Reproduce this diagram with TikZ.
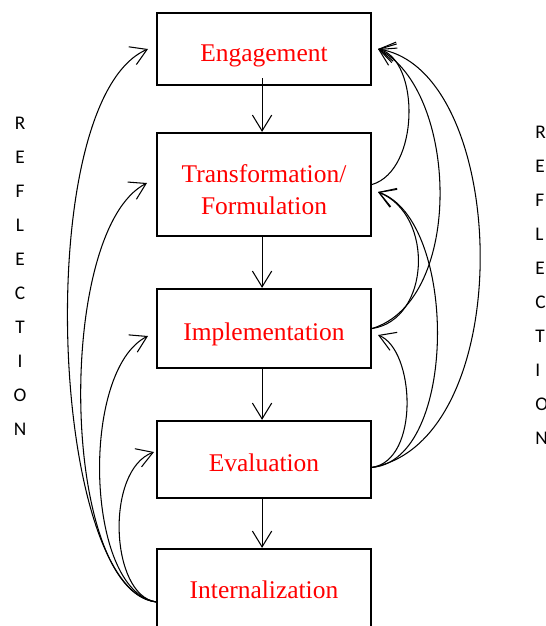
\documentclass[tikz,border=0pt]{standalone}
\usepackage{fontspec}
\setmainfont{Liberation Serif}
\newfontfamily\reflfont{Carlito}
\usetikzlibrary{arrows.meta}

\tikzset{
  stage/.style={draw, line width=1.3pt, minimum width=4.28cm, text=red,
    font=\fontsize{14.5}{18.3}\selectfont, align=center, text height=16.9pt},
  oneline/.style={text depth=3.2pt},
  flow/.style={line width=0.6pt, -{Straight Barb[length=9pt,width=11pt]}},
  refl/.style={font=\reflfont\fontsize{11}{19.3}\selectfont, align=center, inner sep=0pt}
}

\begin{document}
\begin{tikzpicture}[x=0.02cm, y=-0.02cm]
  \useasboundingbox (0, 0) rectangle (545, 626);

  \node[stage, oneline, minimum height=1.44cm] (eng) at (264, 49) {Engagement};
  \node[stage, text height=34.6pt, minimum height=2.06cm] (trans) at (264, 184.5) {Transformation/\\Formulation};
  \node[stage, oneline, minimum height=1.58cm] (impl) at (264, 328.5) {Implementation};
  \node[stage, oneline, minimum height=1.54cm] (eval) at (264, 459.5) {Evaluation};
  \node[stage, oneline, text height=12.2pt, minimum height=1.68cm] (intl) at (264, 591) {Internalization};

  \node[refl, anchor=base] (reflL) at (20, 435) {R\\E\\F\\L\\E\\C\\T\\I\\O\\N};
  \node[refl, anchor=base west, align=left] (reflR) at (535, 444) {R\\E\\F\\L\\E\\C\\T\\I\\O\\N};

  \draw[flow] ([xshift=-1.1pt, yshift=4.5pt]eng.south) -- ([xshift=-1.1pt]trans.north);
  \draw[flow] ([xshift=-1.1pt]trans.south) -- ([xshift=-1.1pt]impl.north);
  \draw[flow] ([xshift=-1.1pt]impl.south) -- ([xshift=-1.1pt]eval.north);
  \draw[flow] ([xshift=-1.1pt]eval.south) -- ([xshift=-1.1pt]intl.north);

  \coordinate (engR) at (378, 49);
  \coordinate (transR) at (378, 192);
  \coordinate (implR) at (378, 335);
  \coordinate (evalE) at ([yshift=-4.5pt]eval.east);

  \draw[flow] (trans.east) .. controls (420, 170) and (420, 60) .. (engR);
  \draw[flow] (impl.east) .. controls (465, 300) and (458, 90) .. (engR);
  \draw[flow] (evalE) .. controls (520, 440) and (510, 70) .. (engR);
  \draw[flow] (impl.east) .. controls (430, 320) and (435, 215) .. (transR);
  \draw[flow] (evalE) .. controls (458, 460) and (458, 220) .. (transR);
  \draw[flow] (evalE) .. controls (420, 460) and (415, 350) .. (implR);

  \coordinate (intlW) at ([yshift=-6.2pt]intl.west);
  \coordinate (engL) at (148, 49);
  \coordinate (transL) at (147, 183);
  \coordinate (implL) at (148, 336);
  \coordinate (evalL) at (154, 452);

  \draw[flow] (intlW) .. controls (50, 590) and (30, 100) .. (engL);
  \draw[flow] (intlW) .. controls (60, 590) and (55, 230) .. (transL);
  \draw[flow] (intlW) .. controls (85, 590) and (80, 370) .. (implL);
  \draw[flow] (intlW) .. controls (110, 595) and (105, 470) .. (evalL);
\end{tikzpicture}
\end{document}
